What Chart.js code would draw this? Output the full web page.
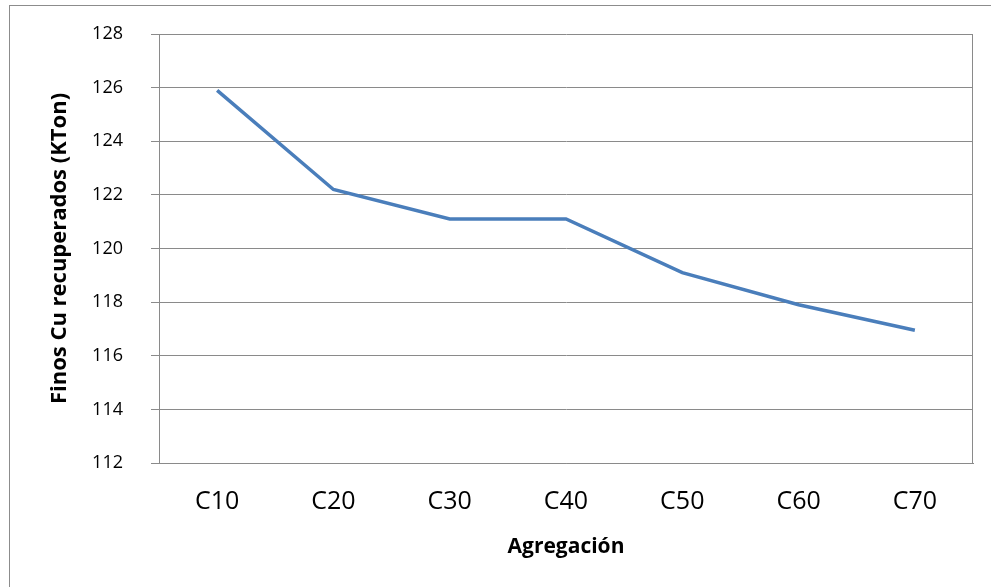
<!DOCTYPE html>
<html><head><meta charset="utf-8">
<script src="https://cdn.jsdelivr.net/npm/chart.js@4"></script>
<style>html,body{margin:0;padding:0;background:#fff}#wrap{width:991px;height:587px;position:relative}</style>
</head><body><div id="wrap"><canvas id="c" width="991" height="587"></canvas></div>
<script>
const categories = ["C10","C20","C30","C40","C50","C60","C70"];
const finosCu = [125.9, 122.2, 121.1, 121.1, 119.1, 117.9, 116.95];
const yMin = 112, yMax = 128, yStep = 2;
const yTitle = "Finos Cu recuperados (KTon)";
const xTitle = "Agregación";

const gridColor = "#8a8a8a";
const frame = {
  id: "frame",
  beforeDraw(chart) {
    const ctx = chart.ctx;
    ctx.save();
    ctx.fillStyle = "#fff";
    ctx.fillRect(0, 0, chart.width, chart.height);
    ctx.strokeStyle = "#8c8c8c";
    ctx.lineWidth = 1;
    ctx.strokeRect(9.5, 5.5, 1000, 700);
    ctx.restore();
  },
  beforeDatasetsDraw(chart) {
    const a = chart.chartArea, ctx = chart.ctx;
    ctx.save();
    ctx.strokeStyle = gridColor;
    ctx.lineWidth = 1;
    ctx.beginPath();
    ctx.moveTo(Math.round(a.right) - 0.5, a.top);
    ctx.lineTo(Math.round(a.right) - 0.5, a.bottom);
    ctx.stroke();
    ctx.restore();
  }
};

Chart.defaults.font.family = "'Open Sans', Lato, sans-serif";
Chart.defaults.color = "#000";

new Chart(document.getElementById("c"), {
  type: "line",
  data: {
    labels: categories,
    datasets: [{
      data: finosCu,
      borderColor: "#4a7ebb",
      borderWidth: 3.5,
      pointRadius: 0,
      tension: 0,
      fill: false
    }]
  },
  options: {
    responsive: false,
    animation: false,
    layout: { padding: { left: 0, right: 18, top: 34, bottom: 0 } },
    plugins: { legend: { display: false }, tooltip: { enabled: false } },
    scales: {
      x: {
        offset: true,
        grid: { display: false, drawTicks: false },
        border: { display: true, color: gridColor, width: 1 },
        ticks: { font: { size: 25 }, padding: 24, maxRotation: 0 },
        title: { display: true, text: xTitle, font: { size: 21, weight: "bold" }, padding: { top: 0, bottom: 27 } },
        afterFit(s) { s.height = 124; }
      },
      y: {
        min: yMin, max: yMax,
        ticks: { stepSize: yStep, font: { size: 18, lineHeight: 0.6 }, padding: 28 },
        grid: { color: gridColor, lineWidth: 1, tickLength: 8, drawTicks: true },
        border: { display: true, color: gridColor, width: 1 },
        title: { display: true, text: yTitle, font: { size: 22, weight: "bold" }, padding: { top: 47, bottom: 0 } },
        afterFit(s) { s.width = 159; }
      }
    }
  },
  plugins: [frame]
});
</script>
</body></html>
